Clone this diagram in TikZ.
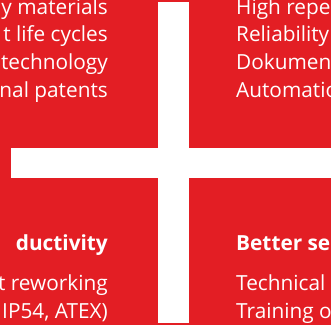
\documentclass[tikz,border=0pt]{standalone}
\usepackage{fontspec}
\setmainfont{Open Sans}
\usetikzlibrary{positioning}
\definecolor{crossred}{RGB}{227,30,36}
\tikzset{
	panel/.style={fill=crossred, draw=none},
	bar/.style={fill=white, draw=none},
	txt/.append style={
		text=white,
		inner sep=0pt,
		text height=15pt,
		text depth=5pt,
		font={\fontsize{20.8}{24}\selectfont},
	},
	headline/.append style={
		txt,
		font={\fontsize{20.8}{24}\selectfont\bfseries},
	},
}

\begin{document}
\begin{tikzpicture}[x=1pt, y=-1pt]

\useasboundingbox (0,0) rectangle (331,325);
\clip (0,0) rectangle (331,325);
\fill[panel] (0,0) rectangle (331,325);

% cross
\fill[bar] (158,2) rectangle (189,323);
\fill[bar] (11,148) rectangle (331,178);

% top left
\node(mat)[txt, anchor=base east] at (108,14) {y materials};
\node(life)[txt, below=7.5pt of mat.south east, anchor=north east] {t life cycles};
\node(tech)[txt, below=7.5pt of life.south east, anchor=north east] {technology};
\node(pat)[txt, below=7.5pt of tech.south east, anchor=north east] {nal patents};

% top right
\node(high)[txt, anchor=base west] at (236,14) {High repe};
\node(rel)[txt, below=7.5pt of high.south west, anchor=north west] {Reliability};
\node(doc)[txt, below=7.5pt of rel.south west, anchor=north west] {Dokumen};
\node(auto)[txt, below=7.5pt of doc.south west, anchor=north west] {Automatio};

% bottom left
\node(prod)[headline, anchor=base east] at (108,250) {ductivity};
\node(rew)[txt, below=20pt of prod.south east, anchor=north east] {t reworking};
\node(ip)[txt, below=8pt of rew.south east, anchor=north east] {IP54, ATEX)};

% bottom right
\node(serv)[headline, anchor=base west] at (236,250) {Better se};
\node(techn)[txt, below=20pt of serv.south west, anchor=north west] {Technical};
\node(train)[txt, below=8pt of techn.south west, anchor=north west] {Training o};

\end{tikzpicture}
\end{document}
